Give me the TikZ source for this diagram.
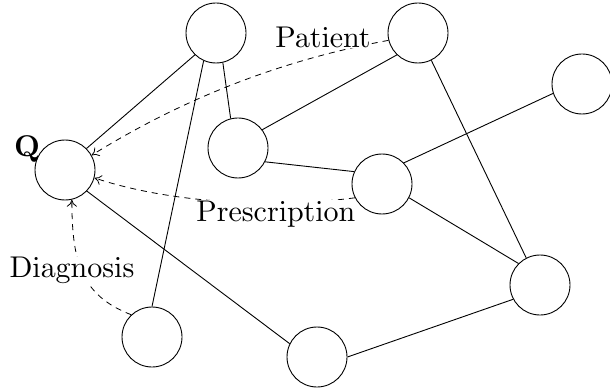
\documentclass[tikz,border=0pt]{standalone}
\usetikzlibrary{arrows.meta}
\font\labrm=cmr10 at 30pt
\font\labbf=cmbx10 at 30pt
\begin{document}
\begin{tikzpicture}[x=1pt,y=-1pt,
  vert/.style={circle,draw,minimum size=60pt,inner sep=0pt,line width=0.9pt},
  edge/.style={line width=0.9pt},
  dep/.style={line width=0.8pt,dash pattern=on 6pt off 5pt,-{To[length=7pt,width=10pt]}},
  lab/.style={font=\labrm,anchor=base,inner sep=0pt,fill=white}]
\useasboundingbox (0,0) rectangle (610,390);
\node[vert] (A) at (216,33) {};
\node[vert] (B) at (418,33) {};
\node[vert] (C) at (582,84) {};
\node[vert] (D) at (238,148) {};
\node[vert] (Q) at (65,170) {};
\node[vert] (E) at (382,184) {};
\node[vert] (F) at (540,285) {};
\node[vert] (G) at (152,337) {};
\node[vert] (H) at (317,357) {};
\draw[edge] (A.226) -- (Q.45);
\draw[edge] (A.246) -- (G.90);
\draw[edge] (A.283) -- (D.104);
\draw[edge] (B.226) -- (D.37);
\draw[edge] (B.296) -- (F.117);
\draw[edge] (C.198) -- (E.44);
\draw[edge] (D.333) -- (E.156);
\draw[edge] (E.333) -- (F.135);
\draw[edge] (Q.316) -- (H.154);
\draw[edge] (H.0) -- (F.208);
\draw[dep] (B.194) .. controls (282,60) and (184,98) .. (Q.29);
\draw[dep] (E.207) .. controls (260,210) and (160,200) .. (Q.345);
\draw[dep] (G.133) .. controls (80,295) and (72,260) .. (Q.283);
\node[lab] (patient) at (323,48) {Patient};
\node[lab] (prescription) at (276,221) {Prescription};
\node[lab] (diagnosis) at (72,277) {Diagnosis};
\node[lab,font=\labbf,fill=none] (qlabel) at (27,157) {Q};
\end{tikzpicture}
\end{document}
